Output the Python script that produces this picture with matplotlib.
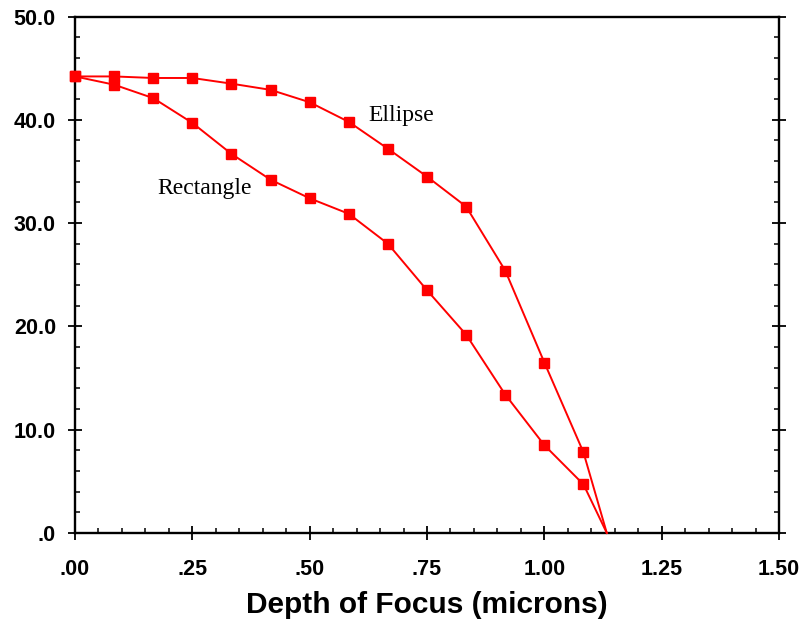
import matplotlib
matplotlib.use("Agg")
import matplotlib.pyplot as plt
from matplotlib.ticker import MultipleLocator, FixedLocator, FixedFormatter

# depth of focus samples, twelfths of a micron plus the cut-off point
depth = [0, 1/12, 2/12, 3/12, 4/12, 5/12, 6/12, 7/12, 8/12, 9/12, 10/12, 11/12, 1.0, 13/12]
cutoff = 1.133

ellipse = [44.2, 44.2, 44.05, 44.05, 43.5, 42.9, 41.7, 39.8, 37.2, 34.5, 31.6, 25.4, 16.5, 7.8]
rectangle = [44.2, 43.4, 42.1, 39.7, 36.7, 34.2, 32.4, 30.9, 28.0, 23.5, 19.2, 13.4, 8.5, 4.7]

xticks = [0, 0.25, 0.5, 0.75, 1.0, 1.25, 1.5]
xticklabels = [".00", ".25", ".50", ".75", "1.00", "1.25", "1.50"]
yticks = [0, 10, 20, 30, 40, 50]
yticklabels = [".0", "10.0", "20.0", "30.0", "40.0", "50.0"]

red = "#ff0000"

fig = plt.figure(figsize=(8.12, 6.26), dpi=100)
ax = fig.add_axes([0.0924, 0.1486, 0.867, 0.825])

for ys in (ellipse, rectangle):
    # the markers stop before the line reaches zero
    ax.plot(depth + [cutoff], ys + [0], color=red, lw=1.4, zorder=3, clip_on=False)
    ax.plot(depth, ys, ls="none", marker="s", ms=6.5, color=red, zorder=4, clip_on=False)

ax.text(0.626, 39.9, "Ellipse", family="Liberation Serif", fontsize=17, va="baseline")
ax.text(0.175, 32.8, "Rectangle", family="Liberation Serif", fontsize=17, va="baseline")

ax.set_xlim(0, 1.5)
ax.set_ylim(0, 50)

ax.xaxis.set_major_locator(FixedLocator(xticks))
ax.xaxis.set_major_formatter(FixedFormatter(xticklabels))
ax.yaxis.set_major_locator(FixedLocator(yticks))
ax.yaxis.set_major_formatter(FixedFormatter(yticklabels))
ax.xaxis.set_minor_locator(MultipleLocator(0.05))
ax.yaxis.set_minor_locator(MultipleLocator(2))

for side in ax.spines.values():
    side.set_linewidth(1.7)

ax.tick_params(which="major", direction="inout", length=10.5, width=1.3,
               right=True, top=False, labelsize=15.5)
ax.tick_params(which="minor", direction="in", length=3.8, width=1.1,
               right=True, top=False)
ax.tick_params(axis="x", which="major", pad=13.5)
ax.tick_params(axis="y", which="major", pad=8.5)
for lab in ax.get_xticklabels() + ax.get_yticklabels():
    lab.set_family("Liberation Sans")
    lab.set_fontweight("bold")

ax.set_xlabel("Depth of Focus (microns)", family="Liberation Sans",
              fontweight="bold", fontsize=21.5, labelpad=8)

fig.savefig("out.png", dpi=100)
